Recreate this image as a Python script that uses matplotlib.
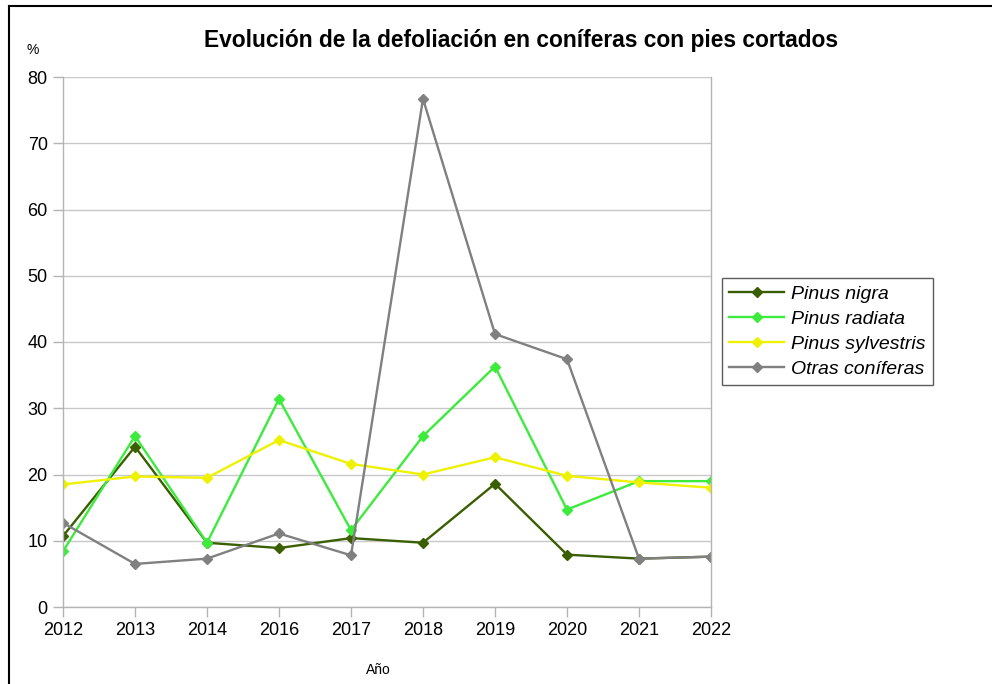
import matplotlib
matplotlib.use("Agg")
import matplotlib.pyplot as plt
from matplotlib.lines import Line2D

years = ["2012", "2013", "2014", "2016", "2017", "2018", "2019", "2020", "2021", "2022"]
pinus_nigra = [10.7, 24.2, 9.7, 8.9, 10.4, 9.7, 18.6, 7.9, 7.3, 7.6]
pinus_radiata = [8.4, 25.8, 9.7, 31.4, 11.6, 25.8, 36.3, 14.7, 19.0, 19.0]
pinus_sylvestris = [18.5, 19.7, 19.5, 25.2, 21.6, 20.0, 22.6, 19.8, 18.8, 18.0]
otras_coniferas = [12.7, 6.5, 7.3, 11.1, 7.8, 76.7, 41.2, 37.4, 7.3, 7.6]
series_names = ["Pinus nigra", "Pinus radiata", "Pinus sylvestris", "Otras coníferas"]
yticks = [0, 10, 20, 30, 40, 50, 60, 70, 80]

plt.rcParams['font.family'] = ['Liberation Sans', 'DejaVu Sans']

fig = plt.figure(figsize=(9.92, 6.84), dpi=100)
ax = fig.add_axes([63/992, 1-607/684, (711-63)/992, (607-77)/684])

colors = ["#3a5f00", "#3deb3d", "#eef200", "#808080"]
data = [pinus_nigra, pinus_radiata, pinus_sylvestris, otras_coniferas]
x = list(range(len(years)))
for name, vals, c in zip(series_names, data, colors):
    ax.plot(x, vals, color=c, lw=1.7, marker="D", markersize=5,
            markerfacecolor=c, markeredgecolor=c, label=name)

ax.set_xlim(0, len(years) - 1)
ax.set_ylim(0, 80)
ax.set_xticks(x)
ax.set_xticklabels(years, fontsize=13)
ax.set_yticks(yticks)
ax.set_yticklabels([str(v) for v in yticks], fontsize=13)
ax.grid(axis="y", color="#c8c8c8", lw=1)
ax.set_axisbelow(True)
ax.spines["top"].set_visible(False)
for s in ["left", "right", "bottom"]:
    ax.spines[s].set_color("#b4b4b4")
    ax.spines[s].set_linewidth(1)
ax.tick_params(axis="both", color="#b4b4b4", length=7, width=1, pad=4)

fig.text(521/992, 1-40/684, "Evolución de la defoliación en coníferas con pies cortados",
         ha="center", va="center", fontsize=16.4, fontweight="bold")
fig.text(33/992, 1-50/684, "%", ha="center", va="center", fontsize=10)
fig.text(378/992, 1-670/684, "Año", ha="center", va="center", fontsize=10)

leg = fig.legend(loc="upper left", bbox_to_anchor=(722/992, 1-278/684),
                 prop={"style": "italic", "size": 14}, frameon=True,
                 fancybox=False, edgecolor="#333333", borderpad=0.38,
                 labelspacing=0.38, handlelength=2.8, handletextpad=0.35,
                 borderaxespad=0)
leg.get_frame().set_linewidth(1)

# outer border (left and top visible)
fig.add_artist(Line2D([9/992, 9/992], [0, 1-6/684], color="black", lw=1.5, transform=fig.transFigure))
fig.add_artist(Line2D([9/992, 1], [1-6/684, 1-6/684], color="black", lw=1.5, transform=fig.transFigure))

fig.savefig("out.png", dpi=100)
